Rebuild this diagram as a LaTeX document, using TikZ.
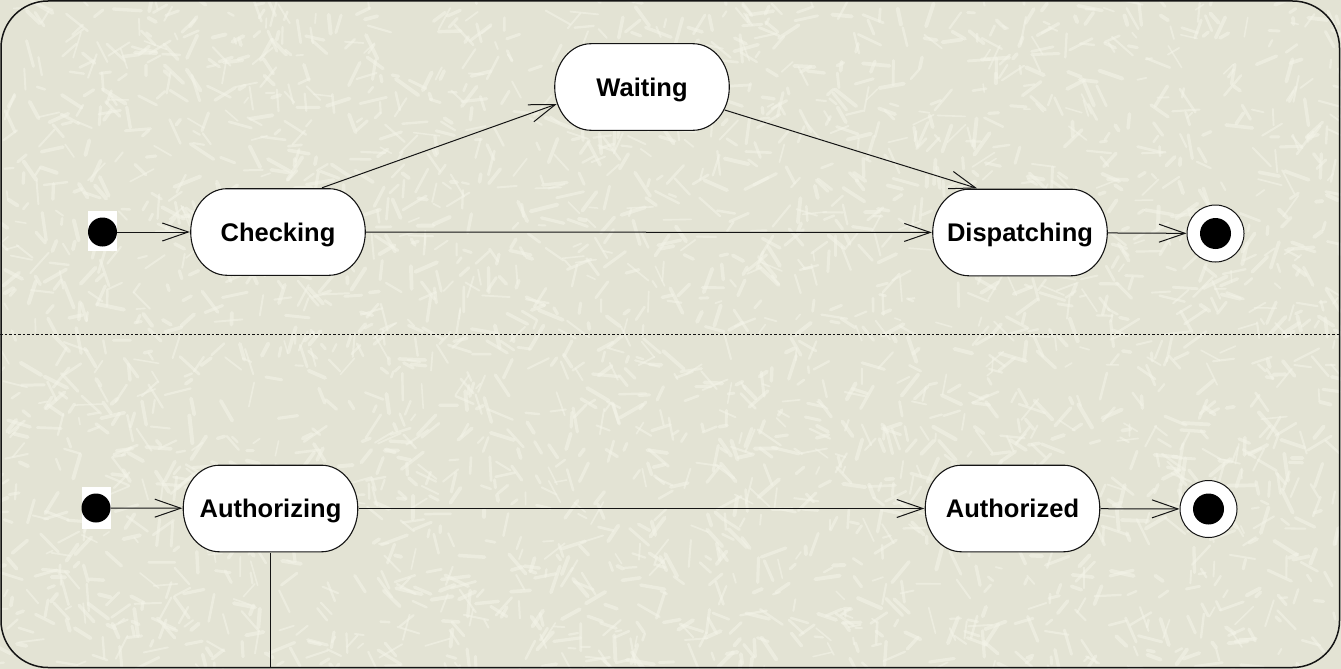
\documentclass[tikz,border=0pt]{standalone}
\usepackage{fontspec}
\setmainfont{Liberation Sans}
\usetikzlibrary{arrows.meta,calc}

\definecolor{paper}{RGB}{227,227,212}
\definecolor{fleck}{RGB}{244,244,233}
\definecolor{ink}{RGB}{20,20,20}

\tikzset{
  % state box: rectangle node whose outline has elliptical ends
  statebox/.style={
    minimum width=176pt, minimum height=88pt, inner sep=0pt,
    text height=18pt, text depth=0pt,
    font=\fontsize{25.5}{30}\selectfont\bfseries,
    path picture={
      \begin{scope}[x=1pt,y=1pt]
      \draw[fill=white,draw=ink,line width=1.1pt]
        let \p1=(path picture bounding box.south west),
            \p2=(path picture bounding box.north east) in
        (\x1+37pt,\y2-0.7pt) -- (\x2-37pt,\y2-0.7pt)
        arc[start angle=90,end angle=-90,x radius=36.3pt,y radius={(\y2-\y1)/2-0.7pt}]
        -- (\x1+37pt,\y1+0.7pt)
        arc[start angle=270,end angle=90,x radius=36.3pt,y radius={(\y2-\y1)/2-0.7pt}]
        -- cycle;
      \end{scope}
    }},
  startdot/.style={circle, fill=black, minimum size=29pt, inner sep=0pt},
  endring/.style={circle, draw=ink, fill=white, line width=1pt, minimum size=57pt, inner sep=0pt},
  enddot/.style={circle, fill=black, minimum size=31pt, inner sep=0pt},
  flow/.style={draw=ink, line width=1pt,
    -{Straight Barb[length=26pt,width=18pt,line width=1pt]}},
  plainline/.style={draw=ink, line width=1pt},
}

\begin{document}
\begin{tikzpicture}[x=1pt,y=-1pt]
  \useasboundingbox (0,0) rectangle (1341,669);

  % textured paper background
  \fill[paper] (0,0) rectangle (1341,669);
  \begin{scope}
    \clip (0,0) rectangle (1341,669);
    \pgfmathsetseed{4242}
    \foreach \k in {1,...,2800} {
      \pgfmathsetmacro\px{rnd*1341}
      \pgfmathsetmacro\py{rnd*669}
      \pgfmathsetmacro\pa{rnd*360}
      \pgfmathsetmacro\pl{6+rnd*22}
      \pgfmathsetmacro\pw{1.5+rnd*2.5}
      \draw[fleck, opacity=0.55, line width=\pw pt, line cap=round]
        (\px,\py) -- ++(\pa:\pl);
    }
  \end{scope}

  % outer frame and region separator
  \draw[ink, line width=1.5pt, rounded corners=47pt] (1,1) rectangle (1339.5,667.5);
  \draw[ink, line width=0.8pt, dash pattern=on 2.5pt off 2pt] (0,334) -- (1341,334);

  % upper region
  \fill[white] (88,211) rectangle (117,251);
  \node[startdot] (i1) at (102.5,232) {};
  \node[statebox] (checking) at (278,232) {Checking};
  \node[statebox] (waiting) at (642,87) {Waiting};
  \node[statebox] (dispatching) at (1020,232.5) {Dispatching};
  \node[endring] (f1) at (1215.5,233.5) {};
  \node[enddot] (f1c) at (f1.center) {};

  \draw[flow] (i1) -- (checking);
  \draw[flow] ([xshift=44pt]checking.north) -- ([xshift=3pt,yshift=-17pt]waiting.west);
  \draw[flow] ([xshift=-5.5pt,yshift=-23pt]waiting.east) -- ([xshift=-43pt]dispatching.north);
  \draw[flow] (checking) -- (dispatching);
  \draw[flow] (dispatching) -- (f1);

  % lower region
  \fill[white] (82,487) rectangle (111,529);
  \node[startdot] (i2) at (96,508) {};
  \node[statebox] (authorizing) at (270.5,508.5) {Authorizing};
  \node[statebox] (authorized) at (1012.5,508.5) {Authorized};
  \node[endring] (f2) at (1208.5,509) {};
  \node[enddot] (f2c) at (f2.center) {};
  \coordinate (exit) at (270.5,667);

  \draw[flow] (i2) -- (authorizing);
  \draw[flow] (authorizing) -- (authorized);
  \draw[flow] (authorized) -- (f2);
  \draw[plainline] (authorizing.south) -- (exit);
\end{tikzpicture}
\end{document}
